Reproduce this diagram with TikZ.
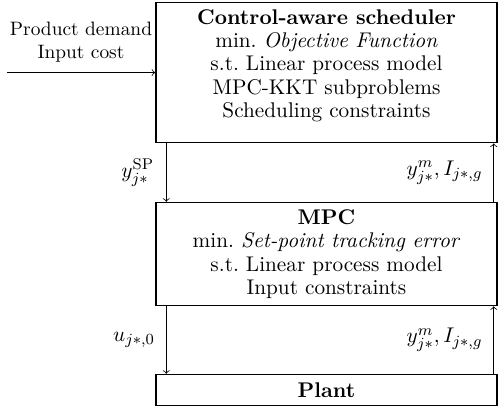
\documentclass[11pt,tikz,border=0pt]{standalone}
\usepackage{amsmath}
\usetikzlibrary{positioning}
\tikzset{>=to}
\tikzset{block/.style={draw, thick, align=center, minimum width=175.8pt, font=\fontsize{10.95}{12}\selectfont}}

\begin{document}
\begin{tikzpicture}
    \useasboundingbox (0,0) rectangle (256.7pt,-212.4pt);
    \node[block, text depth=9.3pt] (sched) at (168.3pt,-37.4pt) {\textbf{Control-aware scheduler}\\ min.\ \textit{Objective Function}\\ s.t.\ Linear process model\\ MPC-KKT subproblems\\ Scheduling constraints};
    \node[block, below=30.1pt of sched] (mpc) {\textbf{MPC}\\ min.\ \textit{Set-point tracking error}\\ s.t.\ Linear process model\\ Input constraints};
    \node[block, minimum height=16pt, below=34.8pt of mpc] (plant) {\textbf{Plant}};
    \coordinate (in) at (3.5pt,-37.4pt);
    \draw[->] (in) -- (sched.west) node [midway, above=1.4pt, align=center, font=\small] {Product demand\\ Input cost};
    \draw[->] ([xshift=5.7pt]sched.south west) -- ([xshift=5.7pt]mpc.north west) node [midway, left=2.5pt] {$y^{\text{SP}}_{j*}$};
    \draw[->] ([xshift=-2.1pt]mpc.north east) -- ([xshift=-2.1pt]sched.south east) node [midway, left=2pt] {$y^{m}_{j*}, I_{j*,g}$};
    \draw[->] ([xshift=5.7pt]mpc.south west) -- ([xshift=5.7pt]plant.north west) node [midway, left=2pt] {$u_{j*,0}$};
    \draw[->] ([xshift=-2.1pt]plant.north east) -- ([xshift=-2.1pt]mpc.south east) node [midway, left=2pt] {$y^{m}_{j*}, I_{j*,g}$};
\end{tikzpicture}
\end{document}
